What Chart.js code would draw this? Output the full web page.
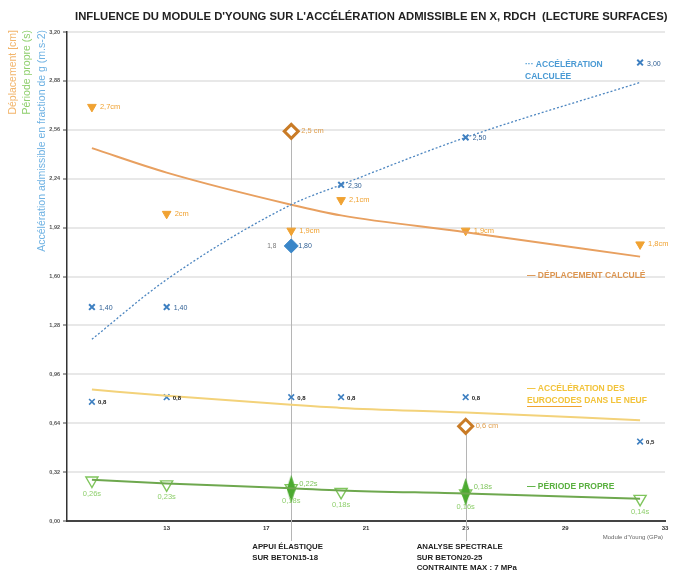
<!DOCTYPE html>
<html>
<head>
<meta charset="utf-8">
<script src="https://cdn.jsdelivr.net/npm/chart.js@4.4.1/dist/chart.umd.min.js"></script>
<style>
  html, body { margin: 0; padding: 0; background: #fff; }
</style>
</head>
<body>
<canvas id="chart" width="675" height="571"></canvas>
<script>
// ---- data ----
const xVals = [10, 13, 18, 20, 25, 32];
const accCalc = [1.19, 1.58, 2.07, 2.20, 2.51, 2.87];   // accélération calculée (courbe)
const depCalc = [2.44, 2.28, 2.07, 2.00, 1.89, 1.73];   // déplacement calculé (courbe)
const euroCalc = [0.86, 0.82, 0.76, 0.74, 0.71, 0.66];  // accélération eurocodes
const perCalc = [0.27, 0.245, 0.215, 0.20, 0.18, 0.145]; // période propre

const accPtsX = [10, 13, 20, 25, 32];
const accPtsY = [1.40, 1.40, 2.20, 2.51, 3.00];
const accPtsLbl = ['1,40', '1,40', '2,30', '2,50', '3,00'];

const euroPtsY = [0.78, 0.81, 0.81, 0.81, 0.81, 0.52];
const euroPtsLbl = ['0,8', '0,8', '0,8', '0,8', '0,8', '0,5'];

const depPtsY = [2.71, 2.01, 1.90, 2.10, 1.90, 1.81];
const depPtsLbl = ['2,7cm', '2cm', '1,9cm', '2,1cm', '1,9cm', '1,8cm'];

const depDiaX = [18, 25];
const depDiaY = [2.55, 0.62];
const depDiaLbl = ['2,5 cm', '0,6 cm'];

const accDiaX = [18];
const accDiaY = [1.80];

const perPtsY = [0.265, 0.24, 0.215, 0.19, 0.18, 0.145];
const perPtsLbl = ['0,26s', '0,23s', '0,18s', '0,18s', '0,16s', '0,14s'];

const perDiaX = [18, 25];
const perDiaY = [0.21, 0.19];
const perDiaLbl = ['0,22s', '0,18s'];

const annotX = [18, 25];
const annotTop = [2.55, 0.62];
const annotText = [
  ['APPUI ÉLASTIQUE', 'SUR BETON15-18'],
  ['ANALYSE SPECTRALE', 'SUR BETON20-25', 'CONTRAINTE MAX : 7 MPa']
];

const titleText = "INFLUENCE DU MODULE D'YOUNG SUR L'ACCÉLÉRATION ADMISSIBLE EN X, RDCH  (LECTURE SURFACES)";

const FONT = '"Liberation Sans", Arial, sans-serif';
const BLUE = '#3d7fc1', ORANGE = '#f0a232', BROWN = '#c97b26', YELLOW = '#f3d27a', GREEN = '#6ea84e', LGREEN = '#7fc55c';

function pts(xs, ys) { return xs.map((x, i) => ({ x: x, y: ys[i] })); }

function tallDiamond(w, h, color) {
  const c = document.createElement('canvas');
  c.width = w; c.height = h;
  const g = c.getContext('2d');
  g.fillStyle = color;
  g.beginPath();
  g.moveTo(w / 2, 0); g.lineTo(w, h / 2); g.lineTo(w / 2, h); g.lineTo(0, h / 2);
  g.closePath();
  g.fill();
  return c;
}

const curve = (data, color, width, dash) => ({
  data: data, borderColor: color, borderWidth: width, borderDash: dash || [],
  pointRadius: 0, cubicInterpolationMode: 'monotone', fill: false
});

const marks = (data, opts) => Object.assign({ data: data, showLine: false }, opts);

// labels next to the points
const pointLabels = {
  id: 'pointLabels',
  afterDatasetsDraw(chart) {
    const ctx = chart.ctx;
    chart.data.datasets.forEach((ds, i) => {
      if (!ds.lbl) return;
      const meta = chart.getDatasetMeta(i);
      ds.lbl.forEach(l => {
        ctx.save();
        ctx.font = l.font;
        ctx.fillStyle = l.color;
        ctx.textAlign = l.align || 'left';
        ctx.textBaseline = 'middle';
        meta.data.forEach((p, j) => {
          if (l.texts[j]) ctx.fillText(l.texts[j], p.x + l.dx, p.y + l.dy);
        });
        ctx.restore();
      });
    });
  }
};

// title, axis titles, inline legend, vertical notes
const decorations = {
  id: 'decorations',
  beforeDatasetsDraw(chart) {
    const ctx = chart.ctx, xs = chart.scales.x, ys = chart.scales.y;
    ctx.save();
    ctx.strokeStyle = '#b5b5b5';
    ctx.lineWidth = 1;
    annotX.forEach((v, i) => {
      const px = Math.round(xs.getPixelForValue(v)) + 0.5;
      ctx.beginPath();
      ctx.moveTo(px, ys.getPixelForValue(annotTop[i]));
      ctx.lineTo(px, chart.chartArea.bottom + 20);
      ctx.stroke();
    });
    ctx.restore();
  },
  afterDraw(chart) {
    const ctx = chart.ctx, xs = chart.scales.x, area = chart.chartArea;
    ctx.save();
    // title
    ctx.fillStyle = '#222';
    ctx.textBaseline = 'middle';
    ctx.textAlign = 'left';
    ctx.font = 'bold 10px ' + FONT;
    let w = ctx.measureText(titleText).width;
    let fs = 10 * 593 / w;
    ctx.font = 'bold ' + fs.toFixed(2) + 'px ' + FONT;
    ctx.fillText(titleText, 75, 17);

    // y axis titles (rotated)
    const yt = [['Déplacement [cm]', '#f2b56b', 13], ['Période propre (s)', '#8fcf6d', 27], ['Accélération admissible en fraction de g (m.s-2)', '#6fb2e3', 42]];
    ctx.font = '10.5px ' + FONT;
    yt.forEach(t => {
      ctx.save();
      ctx.translate(t[2], 30);
      ctx.rotate(-Math.PI / 2);
      ctx.textAlign = 'right';
      ctx.fillStyle = t[1];
      ctx.fillText(t[0], 0, 0);
      ctx.restore();
    });

    // x axis title
    ctx.font = '6px ' + FONT;
    ctx.fillStyle = '#666';
    ctx.textAlign = 'right';
    ctx.fillText("Module d'Young (GPa)", area.right - 2, area.bottom + 16);

    // inline legend
    ctx.textAlign = 'left';
    ctx.font = 'bold 8.5px ' + FONT;
    ctx.fillStyle = '#4a9ad4';
    ctx.fillText('··· ACCÉLÉRATION', 525, 65);
    ctx.fillText('CALCULÉE', 525, 77);
    ctx.fillStyle = '#dc9550';
    ctx.fillText('— DÉPLACEMENT CALCULÉ', 527, 276);
    ctx.fillStyle = '#f2c33a';
    ctx.fillText('— ACCÉLÉRATION DES', 527, 389);
    ctx.fillText('EUROCODES DANS LE NEUF', 527, 401);
    const ew = ctx.measureText('EUROCODES').width;
    ctx.strokeStyle = '#f0a232';
    ctx.lineWidth = 1;
    ctx.beginPath(); ctx.moveTo(527, 406.5); ctx.lineTo(527 + ew, 406.5); ctx.stroke();
    ctx.fillStyle = '#5ab040';
    ctx.fillText('— PÉRIODE PROPRE', 527, 487);

    // notes under the axis
    ctx.font = 'bold 7.8px ' + FONT;
    ctx.fillStyle = '#222';
    const off = [-39, -49];
    annotX.forEach((v, i) => {
      const px = xs.getPixelForValue(v) + off[i];
      annotText[i].forEach((s, k) => ctx.fillText(s, px, area.bottom + 26 + k * 10.5));
    });
    ctx.restore();
  }
};

const greenDia = tallDiamond(9, 28, '#4caa30');

new Chart(document.getElementById('chart'), {
  type: 'line',
  data: {
    datasets: [
      curve(pts(xVals, accCalc), '#4d86c0', 1.3, [2, 2]),
      curve(pts(xVals, depCalc), '#e8a060', 2),
      curve(pts(xVals, euroCalc), YELLOW, 2),
      curve(pts(xVals, perCalc), GREEN, 2),
      marks(pts(accPtsX, accPtsY), {
        pointStyle: 'crossRot', pointRadius: 4, borderColor: BLUE, borderWidth: 2,
        lbl: [{ texts: accPtsLbl, dx: 7, dy: 1, color: '#2f5f94', font: '7px ' + FONT }]
      }),
      marks(pts(xVals, euroPtsY), {
        pointStyle: 'crossRot', pointRadius: 4, borderColor: BLUE, borderWidth: 1.6,
        lbl: [{ texts: euroPtsLbl, dx: 6, dy: 1, color: '#222', font: 'bold 6px ' + FONT }]
      }),
      marks(pts(xVals, depPtsY), {
        pointStyle: 'triangle', rotation: 180, pointRadius: 5, backgroundColor: ORANGE, borderColor: ORANGE, borderWidth: 1,
        lbl: [{ texts: depPtsLbl, dx: 8, dy: 0, color: '#f0a232', font: '7.5px ' + FONT }]
      }),
      marks(pts(depDiaX, depDiaY), {
        pointStyle: 'rectRot', pointRadius: 7, backgroundColor: '#fff', borderColor: BROWN, borderWidth: 3,
        lbl: [{ texts: depDiaLbl, dx: 10, dy: 0, color: '#e0a050', font: '7.5px ' + FONT }]
      }),
      marks(pts(accDiaX, accDiaY), {
        pointStyle: 'rectRot', pointRadius: 7, backgroundColor: '#3a86c8', borderColor: '#3a86c8', borderWidth: 1,
        lbl: [
          { texts: ['1,80'], dx: 7, dy: 0, color: '#2f5f94', font: '7px ' + FONT },
          { texts: ['1,8'], dx: -15, dy: 0, color: '#777', font: '6.5px ' + FONT, align: 'right' }
        ]
      }),
      marks(pts(accDiaX, accDiaY), {
        pointStyle: 'rectRot', pointRadius: 3, backgroundColor: '#3a86c8', borderColor: '#fff', borderWidth: 1.2
      }),
      marks(pts(perDiaX, perDiaY), {
        pointStyle: greenDia,
        lbl: [{ texts: perDiaLbl, dx: 8, dy: -5, color: '#7fc55c', font: '7.5px ' + FONT }]
      }),
      marks(pts(xVals, perPtsY), {
        pointStyle: 'triangle', rotation: 180, pointRadius: 7, backgroundColor: 'rgba(255,255,255,0)', borderColor: LGREEN, borderWidth: 1.4,
        lbl: [{ texts: perPtsLbl, dx: 0, dy: 13, color: '#8fcf6d', font: '7.5px ' + FONT, align: 'center' }]
      })
    ]
  },
  options: {
    responsive: false,
    animation: false,
    devicePixelRatio: 1,
    layout: { padding: { top: 32, right: 5, left: 0, bottom: 0 } },
    plugins: {
      legend: { display: false },
      tooltip: { enabled: false },
      title: { display: false }
    },
    scales: {
      x: {
        type: 'linear', min: 9, max: 33,
        ticks: {
          stepSize: 4, autoSkip: false, maxRotation: 0, padding: 4,
          callback: v => v === 9 ? '' : v,
          font: { size: 6, weight: 'bold', family: FONT }, color: '#333'
        },
        grid: { display: false, drawTicks: false },
        border: { color: '#444', width: 2 },
        afterFit: s => { s.height = 50; }
      },
      y: {
        min: 0, max: 3.2,
        ticks: {
          stepSize: 0.32, padding: 3,
          callback: v => v.toFixed(2).replace('.', ','),
          font: { size: 5.5, weight: 'bold', family: FONT }, color: '#555'
        },
        grid: { color: '#e8e8e8', lineWidth: 2, tickLength: 4, tickColor: '#444', tickWidth: 1 },
        border: { color: '#333', width: 1.5 },
        afterFit: s => { s.width = 67; }
      }
    }
  },
  plugins: [pointLabels, decorations]
});
</script>
</body>
</html>
